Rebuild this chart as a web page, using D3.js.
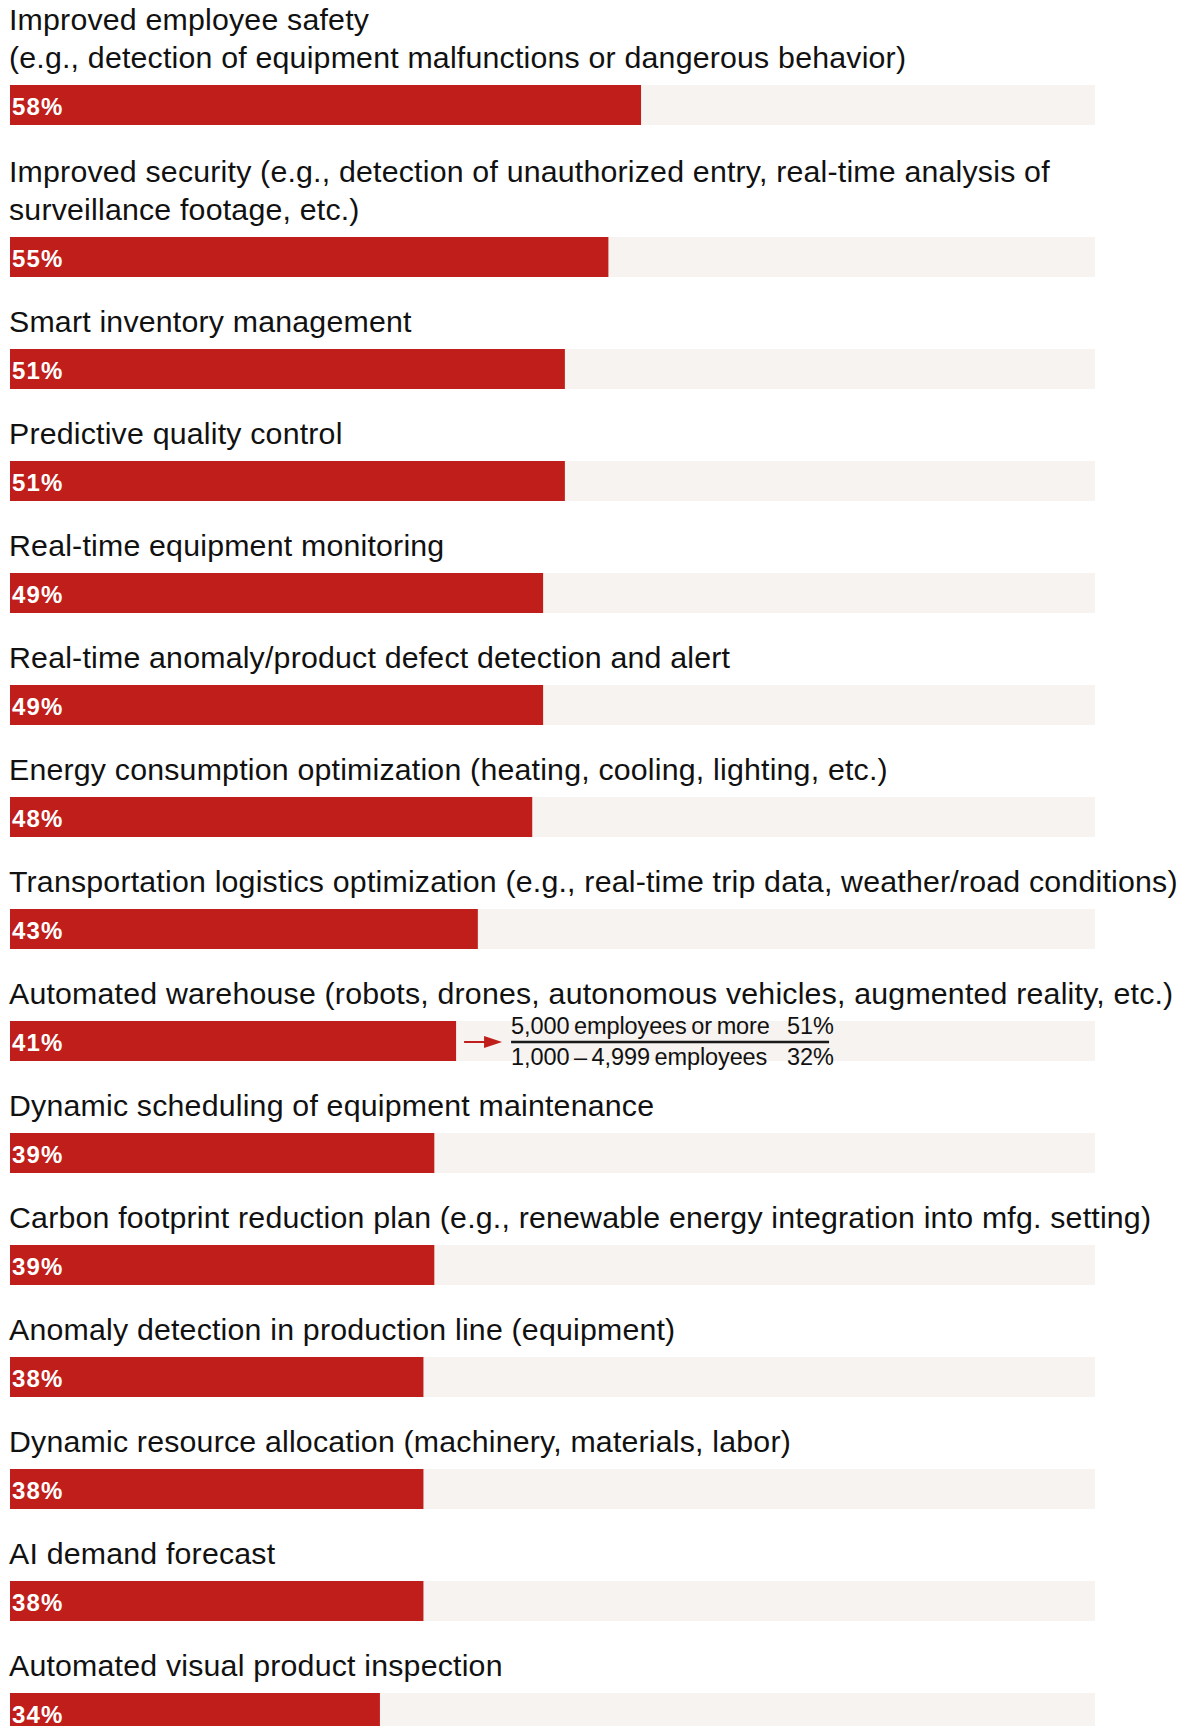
<!DOCTYPE html>
<html>
<head>
<meta charset="utf-8">
<script src="https://cdn.jsdelivr.net/npm/d3@7"></script>
<style>
  html, body { margin: 0; padding: 0; background: #fff; }
  svg { display: block; }
</style>
</head>
<body>
<div id="chart"></div>
<script>
// Use cases, one per row; multi-line labels are split into lines.
const categories = [
  ["Improved employee safety", "(e.g., detection of equipment malfunctions or dangerous behavior)"],
  ["Improved security (e.g., detection of unauthorized entry, real-time analysis of", "surveillance footage, etc.)"],
  ["Smart inventory management"],
  ["Predictive quality control"],
  ["Real-time equipment monitoring"],
  ["Real-time anomaly/product defect detection and alert"],
  ["Energy consumption optimization (heating, cooling, lighting, etc.)"],
  ["Transportation logistics optimization (e.g., real-time trip data, weather/road conditions)"],
  ["Automated warehouse (robots, drones, autonomous vehicles, augmented reality, etc.)"],
  ["Dynamic scheduling of equipment maintenance"],
  ["Carbon footprint reduction plan (e.g., renewable energy integration into mfg. setting)"],
  ["Anomaly detection in production line (equipment)"],
  ["Dynamic resource allocation (machinery, materials, labor)"],
  ["AI demand forecast"],
  ["Automated visual product inspection"]
];
const values = [58, 55, 51, 51, 49, 49, 48, 43, 41, 39, 39, 38, 38, 38, 34];

// Breakdown shown next to the automated-warehouse bar
const breakdownRow = 8;
const breakdownLabels = ["5,000\u2009employees\u2009or\u2009more", "1,000\u2009\u2013\u20094,999\u2009employees"];
const breakdownValues = [51, 32];

const W = 1195, H = 1726;
const barH = 40, lineStep = 40, lineLead = 38.5, gap = 32, labelOffset = 17;
const red = "#bf1e1a", track = "#f6f3f0", ink = "#111";
const font = "'Liberation Sans', Arial, sans-serif";

const x = d3.scaleLinear().domain([0, 100]).range([10, 1098]);
const trackRight = 1095;

// Cumulative row layout: each row = label lines + bar + gap
const rows = [];
let yCursor = 5;
categories.forEach((lines, i) => {
  yCursor += lines.length * lineStep;
  rows.push({ lines, value: values[i], barTop: yCursor, i });
  yCursor += barH + gap;
});

const svg = d3.select("#chart").append("svg")
  .attr("width", W).attr("height", H)
  .attr("viewBox", `0 0 ${W} ${H}`);

const g = svg.selectAll("g.row").data(rows).join("g")
  .attr("class", "row")
  .attr("transform", d => `translate(0,${d.barTop})`);

// Background track (0–100%)
g.append("rect")
  .attr("x", x(0)).attr("y", 0)
  .attr("width", trackRight - x(0)).attr("height", barH)
  .attr("fill", track);

// Value bar
g.append("rect")
  .attr("x", x(0)).attr("y", 0)
  .attr("width", d => x(d.value) - x(0)).attr("height", barH)
  .attr("fill", red);

// Value label inside the bar
g.append("text")
  .attr("x", x(0) + 2).attr("y", 29.5)
  .attr("fill", "#fff")
  .style("font-family", font)
  .style("font-weight", 700)
  .style("font-size", "24px")
  .style("letter-spacing", "1.2px")
  .text(d => d.value + "%");

// Category label above the bar
g.each(function (d) {
  const n = d.lines.length;
  d3.select(this).selectAll("text.label").data(d.lines).join("text")
    .attr("class", "label")
    .attr("x", 9)
    .attr("y", (s, k) => -labelOffset - (n - 1 - k) * lineLead)
    .attr("fill", ink)
    .style("font-family", font)
    .style("font-size", "30.3px")
    .style("letter-spacing", "0.2px")
    .text(s => s);
});

// Size breakdown annotation
const row = rows[breakdownRow];
const ann = svg.append("g")
  .attr("transform", `translate(0,${row.barTop})`);
const ax0 = x(row.value) + 8, ay = 21;
ann.append("line")
  .attr("x1", ax0).attr("x2", ax0 + 24)
  .attr("y1", ay).attr("y2", ay)
  .attr("stroke", red).attr("stroke-width", 2);
ann.append("path")
  .attr("d", `M${ax0 + 20},${ay - 6}L${ax0 + 38},${ay}L${ax0 + 20},${ay + 6}Z`)
  .attr("fill", red);

const tx = ax0 + 47, px = tx + 276;
ann.append("line")
  .attr("x1", tx).attr("x2", tx + 318)
  .attr("y1", ay).attr("y2", ay)
  .attr("stroke", "#1a1a1a").attr("stroke-width", 2.3);

const annText = (s, xx, yy) => ann.append("text")
  .attr("x", xx).attr("y", yy)
  .attr("fill", ink)
  .style("font-family", font)
  .style("font-size", "23.5px")
  .style("letter-spacing", "-0.1px")
  .text(s);

breakdownLabels.forEach((s, k) => {
  const yy = k === 0 ? 13 : 44;
  annText(s, tx, yy);
  annText(breakdownValues[k] + "%", px, yy);
});
</script>
</body>
</html>
